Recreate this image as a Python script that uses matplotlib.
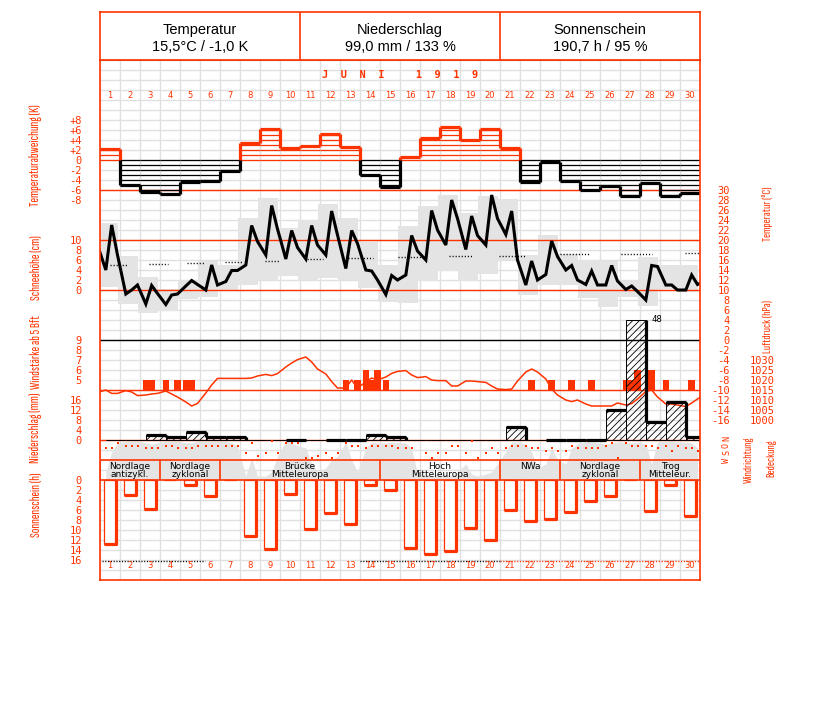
import numpy as np
import matplotlib
matplotlib.use("Agg")
import matplotlib.pyplot as plt
from matplotlib import font_manager

RED = '#ff3300'
GREY = '#e4e4e4'
GRID = '#e0e0e0'

## Data
days = np.arange(1, 31)
obs_hours = [7, 14, 21]

# Temperaturabweichung (K) per day
temp_anomaly = [2.2, -5.0, -6.3, -6.7, -4.3, -4.2, -2.2, 3.5, 6.3, 2.5,
                2.8, 5.3, 2.7, -3.0, -5.3, 0.7, 4.5, 6.7, 4.1, 6.3,
                2.5, -4.4, -0.4, -4.1, -5.9, -5.2, -7.2, -4.5, -7.2, -6.5]

# Temperatur (°C) at 7, 14, 21 h
temp_obs = [14.0, 23.0, 17.0,   9.2, 10.0, 11.0,   7.2, 10.9, 9.3,
            7.1, 9.0, 9.2,      10.8, 11.9, 11.1,  10.0, 15.0, 11.0,
            11.7, 13.9, 13.9,   15.0, 22.9, 19.7,  17.0, 26.9, 22.2,
            16.2, 21.9, 18.5,   16.2, 22.9, 19.0,  17.0, 25.8, 21.0,
            14.3, 21.9, 19.3,   14.0, 13.8, 12.0,  9.1, 12.9, 12.0,
            13.0, 20.9, 17.8,   16.0, 25.9, 22.0,  19.0, 28.0, 24.3,
            18.1, 24.8, 20.9,   19.0, 29.0, 24.3,  21.1, 25.8, 16.0,
            11.0, 15.8, 12.0,   13.1, 19.8, 16.7,  14.0, 14.9, 12.0,
            11.1, 13.8, 11.0,   11.0, 14.9, 11.8,  10.1, 10.8, 9.7,
            8.0, 14.9, 14.7,    11.0, 11.0, 10.0,  10.0, 13.0, 11.1]
temp_prev, temp_next = 19.0, 11.8   # 31 May 21 h, 1 July 7 h

# daily extremes (21 h - 21 h)
tmax = [23.4, 16.8, 12.7, 10.3, 12.1, 15.8, 15.0, 24.5, 28.5, 22.5,
        24.0, 27.2, 24.5, 19.7, 15.0, 22.8, 26.9, 29.1, 25.5, 28.9,
        28.3, 17.1, 21.0, 17.3, 16.0, 15.8, 12.0, 16.7, 15.0, 15.0]
tmin = [10.6, 7.3, 5.4, 5.8, 8.3, 8.7, 10.0, 11.0, 12.0, 12.9,
        12.0, 12.4, 12.1, 10.5, 7.7, 7.5, 11.9, 13.8, 11.9, 13.3,
        16.0, 9.0, 11.1, 11.0, 8.5, 6.7, 8.7, 6.9, 10.2, 9.7]

# long-term mean temperature (visible dotted pieces)
clim_from = [0.5, 2.45, 4.35, 6.25, 8.25, 10.35, 12.4, 14.9, 17.45, 19.95, 23.0, 26.05, 29.25]
clim_to = [1.4, 3.4, 5.25, 7.15, 9.0, 11.15, 13.65, 16.35, 18.6, 21.3, 24.5, 27.6, 30.0]
clim_temp = [15.1, 15.3, 15.5, 15.7, 15.9, 16.2, 16.4, 16.6, 16.8, 16.9, 17.2, 17.3, 17.5]

# Windstärke ab 5 Bft
wind_day = [3, 3, 4, 4, 5, 5, 13, 13, 14, 14, 14, 15, 22, 23, 24, 25, 27, 27, 27, 28, 29, 30]
wind_hour = [7, 14, 7, 21, 7, 14, 7, 21, 7, 14, 21, 7, 14, 14, 14, 14, 7, 14, 21, 14, 7, 14]
wind_bft = [5, 5, 5, 5, 5, 5, 5, 5, 6, 5, 6, 5, 5, 5, 5, 5, 5, 5, 6, 6, 5, 5]

# Luftdruck (hPa) at 7, 14, 21 h
pressure_obs = [1015.0, 1013.3, 1013.3,  1014.7, 1014.0, 1012.2,  1012.5, 1013.0, 1013.3,
                1014.5, 1013.0, 1011.5,  1009.0, 1007.0, 1008.3,  1013.5, 1017.5, 1020.8,
                1020.8, 1020.8, 1020.8,  1020.8, 1021.0, 1022.0,  1022.8, 1022.2, 1023.2,
                1026.5, 1028.5, 1030.2,  1031.5, 1029.0, 1025.5,  1023.0, 1019.2, 1016.0,
                1016.0, 1020.0, 1016.0,  1019.0, 1021.0, 1020.0,  1021.5, 1023.3, 1024.3,
                1024.7, 1022.5, 1021.2,  1021.7, 1020.0, 1019.7,  1019.7, 1017.0, 1017.0,
                1019.5, 1019.5, 1019.2,  1018.8, 1017.0, 1015.5,  1015.2, 1015.5, 1019.5,
                1024.0, 1025.5, 1024.0,  1020.5, 1015.5, 1012.5,  1010.0, 1009.2, 1010.0,
                1008.0, 1007.0, 1007.0,  1007.0, 1007.0, 1008.5,  1007.5, 1008.2, 1010.5,
                1014.2, 1015.0, 1011.5,  1008.0, 1008.0, 1007.5,  1006.7, 1008.5, 1010.5]
pressure_prev, pressure_next = 1013.8, 1013.0

# Niederschlag (mm), 7 h to 7 h
precip = [0, 0, 2.0, 1.2, 3.1, 1.2, 1.2, 0, 0, 0.1,
          0, 0.1, 0.1, 2.0, 1.2, 0, 0, 0, 0, 0,
          5.1, 0, 0.1, 0.1, 0.1, 12.0, 48.0, 7.0, 15.0, 1.1]

# Windrichtung (degrees) at 7, 14, 21 h
wind_dir = [120, 120, 60,  100, 100, 100,  120, 120, 120,  100, 100, 120,  120, 120, 100,
            100, 100, 100,  100, 100, 100,  180, 60, 220,  180, 40, 180,  60, 60, 60,
            240, 240, 220,  180, 240, 180,  60, 100, 100,  120, 100, 100,  100, 100, 120,
            120, 120, np.nan,  180, 240, 180,  180, 100, 100,  180, 40, 240,  180, 120, 180,
            120, 100, 100,  100, 120, 120,  160, 120, 160,  160, 100, 120,  120, 120, 120,
            100, 60, 240,  60, 100, 100,  100, 100, 120,  100, 160, 100,  120, 120, 160]

# Bedeckung (tenths) at 7, 14, 21 h
cloud_obs = [2.0, 7.0, 9.3,  9.7, 9.7, 9.7,  9.3, 8.9, 9.3,  9.7, 9.7, 9.7,  9.3, 9.3, 9.7,
             9.7, 9.7, 9.7,  9.7, 9.3, 8.5,  1.0, 5.5, 1.0,  1.0, 2.0, 6.0,  9.7, 9.3, 8.5,
             8.0, 4.0, 2.0,  3.0, 5.0, 6.0,  9.5, 5.0, 2.0,  8.0, 9.5, 9.3,  9.3, 9.5, 9.3,
             9.3, 8.0, 1.5,  1.5, 1.0, 1.5,  1.5, 1.0, 2.0,  4.0, 1.5, 1.0,  1.5, 2.0, 4.0,
             7.0, 9.5, 9.5,  9.0, 7.0, 3.0,  4.0, 8.0, 5.0,  4.0, 8.0, 9.0,  9.5, 9.5, 9.3,
             9.0, 9.3, 9.5,  9.5, 9.3, 9.5,  9.0, 4.0, 9.5,  9.7, 9.7, 9.5,  9.5, 9.3, 8.0]

# Sonnenschein (h)
sunshine = [12.7, 2.9, 5.7, 0, 1.0, 3.1, 0, 11.1, 13.8, 2.7,
            9.7, 6.5, 8.7, 1.0, 1.9, 13.5, 14.7, 14.2, 9.5, 11.9,
            5.9, 8.2, 7.7, 6.3, 4.1, 3.1, 0, 6.1, 1.0, 7.1]
mark_from = [0.08, 13.0, 20.0]
mark_to = [5.25, 20.0, 30.0]
mark_color = ['k', 'k', RED]

# Großwetterlagen
wt_first = [1, 4, 7, 15, 21, 24, 28]
wt_last = [3, 6, 14, 20, 23, 27, 30]
wt_name = ["Nordlage\nantizykl.", "Nordlage\nzyklonal", "Brücke\nMitteleuropa",
           "Hoch\nMitteleuropa", "NWa\n ", "Nordlage\nzyklonal", "Trog\nMitteleur."]

header_title = ["Temperatur", "Niederschlag", "Sonnenschein"]
header_value = ["15,5°C / -1,0 K", "99,0 mm / 133 %", "190,7 h / 95 %"]

## Fonts
names = {f.name for f in font_manager.fontManager.ttflist}
NARROW = 'DejaVu Sans'
for cand in ['Sofia Sans Extra Condensed', 'Saira ExtraCondensed', 'Fira Sans Extra Condensed',
             'Barlow Condensed']:
    if cand in names:
        NARROW = cand
        break
MONO = 'DejaVu Sans Mono'
plt.rcParams['hatch.linewidth'] = 0.6

## Derived x positions
obs_x = np.array([d - 1 + h / 24 for d in days for h in obs_hours])
temp_x = np.concatenate([[-3 / 24], obs_x, [30 + 7 / 24]])
temp_y = np.concatenate([[temp_prev], temp_obs, [temp_next]])
pres_y = np.concatenate([[pressure_prev], pressure_obs, [pressure_next]])
wind_x = np.array(wind_day) - 1 + np.array(wind_hour) / 24

W, H = 827, 702
def fx(x): return x / W
def fy(y): return 1 - y / H
RECT = [fx(100), fy(580), 600 / W, 520 / H]

fig = plt.figure(figsize=(W / 100, H / 100), dpi=100)

base = fig.add_axes(RECT)
base.set_xlim(0, 30)
base.set_ylim(580, 60)
base.set_xticks(np.arange(0, 31))
base.set_yticks(np.arange(60, 581, 10))
base.grid(True, color=GRID, lw=1)
base.tick_params(length=0, labelbottom=False, labelleft=False)
for s in base.spines.values():
    s.set_visible(False)


def overlay(lo, hi):
    a = fig.add_axes(RECT)
    a.set_xlim(0, 30)
    a.set_ylim(lo, hi)
    a.patch.set_visible(False)
    for s in a.spines.values():
        s.set_visible(False)
    a.set_xticks([])
    a.set_yticks([])
    a.tick_params(axis='y', length=0, labelcolor=RED, labelsize=7.5, labelfontfamily=MONO)
    return a


# Bedeckung
ax_cloud = overlay(-25, 105)
ax_cloud.fill_between(obs_x, 0, cloud_obs, color=GREY, lw=0)

# Temperatur
ax_t = overlay(-48, 56)
ax_t.bar(days - 1 - 3 / 24, np.array(tmax) - np.array(tmin), bottom=tmin, width=1,
         align='edge', color=GREY, lw=0)
for lev, col in [(30, RED), (20, RED), (10, RED), (0, 'k'), (-10, RED), (-20, RED)]:
    ax_t.axhline(lev, color=col, lw=1)
for x0, x1, v in zip(clim_from, clim_to, clim_temp):
    ax_t.plot([x0, x1], [v, v], color='k', lw=1, ls=(0, (0.8, 1.4)))
ax_t.plot(temp_x, temp_y, color='k', lw=2.2, solid_joinstyle='miter')
ax_t.yaxis.tick_right()
ax_t.set_yticks(np.arange(-16, 31, 2))
ax_t.set_yticklabels([str(v) for v in np.arange(-16, 31, 2)], ha='right')
ax_t.tick_params(axis='y', pad=21.6)

# Temperaturabweichung
ax_a = overlay(-84, 20)
for i, v in enumerate(temp_anomaly):
    col = RED if v > 0 else 'k'
    levels = np.sign(v) * np.arange(0, int(abs(v)) + 1)
    ax_a.hlines(levels, i, i + 1, color=col, lw=0.9)
    ax_a.hlines(v, i, i + 1, color=col, lw=2.3)
for i in range(len(temp_anomaly) - 1):
    a, b = temp_anomaly[i], temp_anomaly[i + 1]
    lo, hi = min(a, b), max(a, b)
    if hi > 0:
        ax_a.vlines(i + 1, max(lo, 0), hi, color=RED, lw=2.3)
    if lo < 0:
        ax_a.vlines(i + 1, lo, min(hi, 0), color='k', lw=2.3)
anom_ticks = np.arange(-8, 9, 2)
ax_a.set_yticks(anom_ticks)
ax_a.set_yticklabels([('+%d' % t) if t > 0 else str(t) for t in anom_ticks])
ax_a.tick_params(axis='y', pad=13)

# Schneehöhe (labels only)
ax_s = overlay(-58, 46)
ax_s.set_yticks(np.arange(0, 11, 2))
ax_s.tick_params(axis='y', pad=13)

# Windstärke
ax_w = overlay(-15, 37)
ax_w.bar(wind_x, np.array(wind_bft) - 4, bottom=4, width=1 / 3, color=RED, lw=0)
ax_w.set_yticks(np.arange(5, 10))
ax_w.tick_params(axis='y', pad=13)

# Luftdruck
ax_p = overlay(920, 1180)
ax_p.plot(temp_x, pres_y, color=RED, lw=1.1)
ax_p.yaxis.tick_right()
ax_p.set_yticks(np.arange(1000, 1031, 5))
ax_p.set_yticklabels([str(v) for v in np.arange(1000, 1031, 5)], ha='right')
ax_p.tick_params(axis='y', pad=54)

# Niederschlag
ax_r = overlay(-56, 152)
px0 = days - 1 + 7 / 24
ax_r.bar(px0, precip, width=1, align='edge', facecolor='none', edgecolor='k',
         hatch='/////', lw=0.7)
for i, v in enumerate(precip):
    if v <= 0:
        continue
    nxt = precip[i + 1] if i + 1 < len(precip) else 0
    if v >= 40:
        ax_r.plot([px0[i] + 1, px0[i] + 1], [v, nxt], color='k', lw=2.3, solid_capstyle='butt')
        ax_r.text(px0[i] + 1.3, v, "%d" % v, fontsize=6.5, family=MONO, va='center')
        continue
    ax_r.plot([px0[i], px0[i] + 1], [v, v], color='k', lw=2.3, solid_capstyle='butt')
    if nxt < v:
        ax_r.plot([px0[i] + 1, px0[i] + 1], [v, nxt], color='k', lw=2.3, solid_capstyle='butt')
ax_r.set_yticks(np.arange(0, 17, 4))
ax_r.tick_params(axis='y', pad=13)

# Windrichtung
ax_d = overlay(1742.7, -4639.1)
ax_d.scatter(obs_x, wind_dir, marker='s', s=3.5, color=RED, lw=0)
ax_d.yaxis.tick_right()
ax_d.set_yticks([0, 90, 180, 270])
ax_d.set_yticklabels(['N', 'O', 'S', 'W'], rotation=90, ha='center', va='center')
ax_d.tick_params(axis='y', pad=19, labelsize=6)

# Sonnenschein
ax_h = overlay(20, -84)
sx = days - 0.5
ax_h.bar(sx, sunshine, width=0.63, facecolor='white', edgecolor=RED, lw=0.9)
for x, v in zip(sx, sunshine):
    if v > 0:
        ax_h.plot([x + 0.315, x + 0.315, x - 0.315], [0, v, v], color=RED, lw=2.3,
                  solid_capstyle='butt')
for x0, x1, c in zip(mark_from, mark_to, mark_color):
    ax_h.plot([x0, x1], [16.2, 16.2], color=c, lw=1, ls=(0, (0.8, 1.2)))
ax_h.set_yticks(np.arange(0, 17, 2))
ax_h.tick_params(axis='y', pad=13)

# Wetterlagen strip, day numbers, frame
top = overlay(580, 60)
top.hlines([460, 480], 0, 30, color=RED, lw=1.2)
for f, l, n in zip(wt_first, wt_last, wt_name):
    top.vlines(f - 1, 460, 480, color=RED, lw=1.2)
    top.text((f - 1 + l) / 2, 470.5, n, ha='center', va='center', fontsize=6.5,
             linespacing=0.9)
for d in days:
    top.text(d - 0.5, 96, str(d), ha='center', va='center', fontsize=6, color=RED)
    top.text(d - 0.5, 566, str(d), ha='center', va='center', fontsize=6, color=RED)
top.text(15, 75, "J  U  N  I     1  9  1  9", ha='center', va='center', fontsize=7.5,
         color=RED, family=MONO, weight='bold')
for s in top.spines.values():
    s.set_visible(True)
    s.set_color(RED)
    s.set_linewidth(1.2)

# Header
hd = fig.add_axes([fx(100), fy(60), 600 / W, 48 / H])
hd.set_xlim(0, 3)
hd.set_ylim(0, 1)
hd.set_xticks([])
hd.set_yticks([])
for s in hd.spines.values():
    s.set_color(RED)
    s.set_linewidth(1.2)
hd.axvline(1, color=RED, lw=1.2)
hd.axvline(2, color=RED, lw=1.2)
for i, (t, v) in enumerate(zip(header_title, header_value)):
    hd.text(i + 0.5, 0.62, t, ha='center', va='center', fontsize=10.5, family='Liberation Sans')
    hd.text(i + 0.5, 0.27, v, ha='center', va='center', fontsize=10.5, family='Liberation Sans')

# Axis names
left_names = [("Temperaturabweichung (K)", 155), ("Schneehöhe (cm)", 268),
              ("Windstärke ab 5 Bft", 352), ("Niederschlag (mm)", 428),
              ("Sonnenschein (h)", 505)]
for txt, y in left_names:
    fig.text(fx(36), fy(y), txt, rotation=90, ha='center', va='center', fontsize=10,
             color=RED, family=NARROW)
right_names = [("Temperatur (°C)", 768, 214), ("Luftdruck (hPa)", 768, 326),
               ("Windrichtung", 749, 460), ("Bedeckung", 771, 458)]
for txt, x, y in right_names:
    fig.text(fx(x), fy(y), txt, rotation=90, ha='center', va='center', fontsize=9,
             color=RED, family=NARROW)

fig.savefig("out.png", dpi=100)
